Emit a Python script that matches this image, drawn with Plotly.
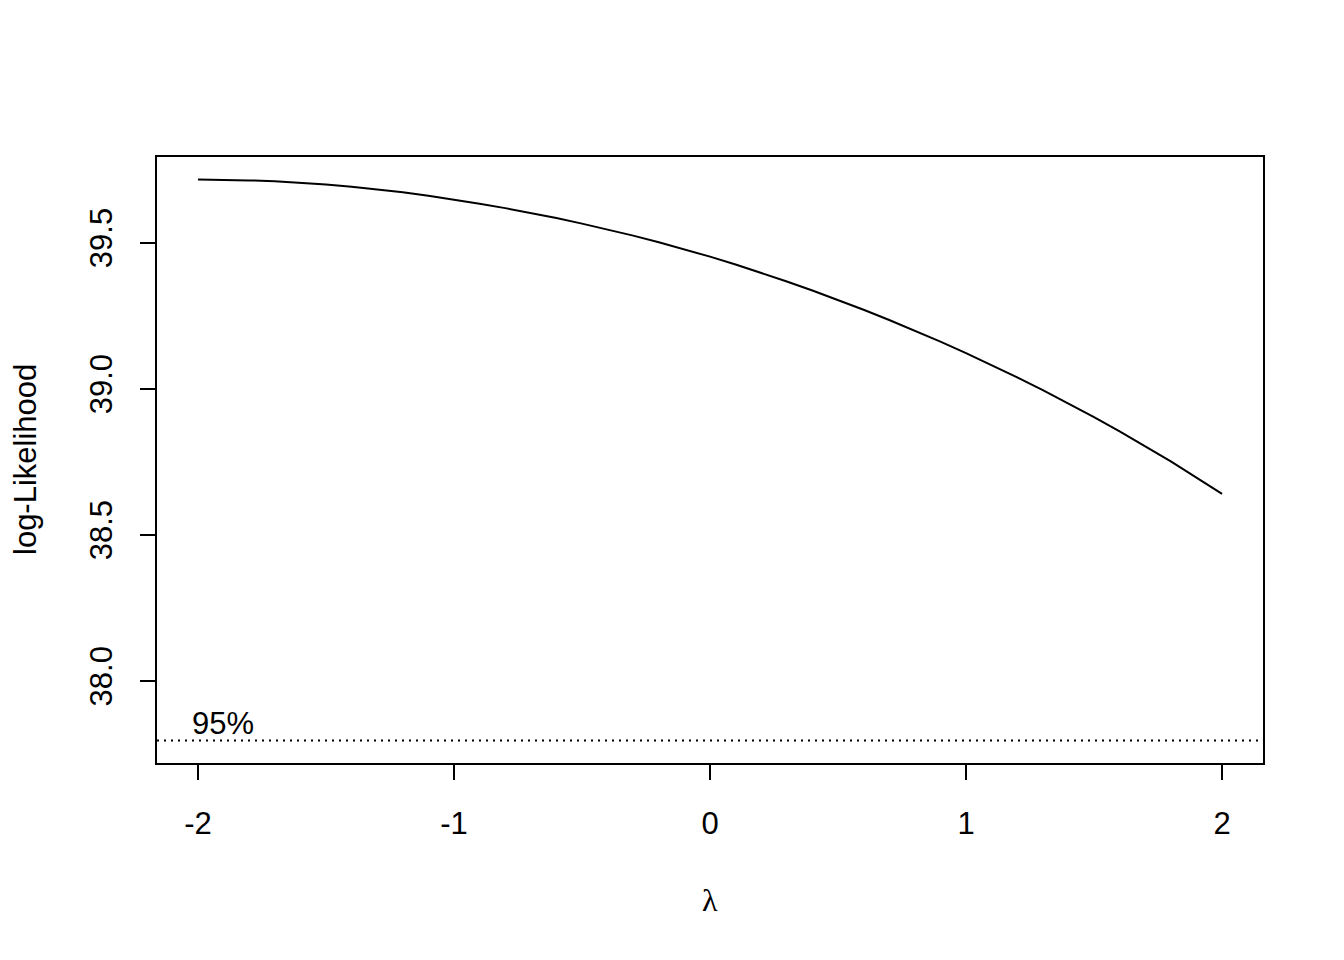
import plotly.graph_objects as go

# Box-Cox profile log-likelihood
lambdas = [-2.0, -1.9, -1.8, -1.7, -1.6, -1.5, -1.4, -1.3, -1.2, -1.1, -1.0,
           -0.9, -0.8, -0.7, -0.6, -0.5, -0.4, -0.3, -0.2, -0.1, 0.0,
           0.1, 0.2, 0.3, 0.4, 0.5, 0.6, 0.7, 0.8, 0.9, 1.0,
           1.1, 1.2, 1.3, 1.4, 1.5, 1.6, 1.7, 1.8, 1.9, 2.0]
loglik = [39.716, 39.715, 39.713, 39.710, 39.705, 39.699, 39.691, 39.682, 39.672, 39.660, 39.647,
          39.633, 39.618, 39.602, 39.584, 39.565, 39.545, 39.524, 39.501, 39.477, 39.452,
          39.425, 39.397, 39.367, 39.336, 39.304, 39.270, 39.235, 39.199, 39.161, 39.122,
          39.081, 39.039, 38.995, 38.950, 38.903, 38.854, 38.803, 38.751, 38.696, 38.640]
ci_level = 37.796
ci_label = "95%"
x_ticks = [-2, -1, 0, 1, 2]
y_ticks = [38.0, 38.5, 39.0, 39.5]
y_ticktext = ["38.0", "38.5", "39.0", "39.5"]

x_min, x_max = -2.16, 2.16
y_lo, y_hi = 37.719, 39.793

FONT = "Liberation Sans, Arial, sans-serif"

fig = go.Figure()
fig.add_trace(go.Scatter(x=lambdas, y=loglik, mode="lines",
                         line=dict(color="black", width=2), hoverinfo="skip"))
fig.add_trace(go.Scatter(x=[x_min, x_max], y=[ci_level, ci_level], mode="lines",
                         line=dict(color="black", width=2, dash="2px,5px"), hoverinfo="skip"))

fig.add_annotation(x=-2.03, y=ci_level, xref="x", yref="y", text=ci_label,
                   showarrow=False, xanchor="left", yanchor="bottom", yshift=-2,
                   font=dict(family=FONT, size=31, color="black"))
fig.add_annotation(x=0.5, y=-(900 - 763) / 606, xref="paper", yref="paper", text="λ",
                   showarrow=False, xanchor="center", yanchor="middle",
                   font=dict(family="Liberation Serif, serif", size=32, color="black"))
fig.add_annotation(x=(25 - 157) / 1106, y=0.5, xref="paper", yref="paper", text="log-Likelihood",
                   showarrow=False, textangle=-90, xanchor="center", yanchor="middle",
                   font=dict(family=FONT, size=31, color="black"))

fig.update_xaxes(range=[x_min, x_max], tickvals=x_ticks, ticktext=[str(t) for t in x_ticks],
                 ticks="outside", ticklen=15, tickwidth=2, tickcolor="black",
                 showline=True, linecolor="black", linewidth=2, mirror=True,
                 showgrid=False, zeroline=False, ticklabelstandoff=17,
                 tickfont=dict(family=FONT, size=31, color="black"))
fig.update_yaxes(range=[y_lo, y_hi], tickvals=y_ticks, ticktext=y_ticktext,
                 ticks="outside", ticklen=15, tickwidth=2, tickcolor="black",
                 showline=True, linecolor="black", linewidth=2, mirror=True,
                 showgrid=False, zeroline=False, tickangle=-90, ticklabelstandoff=16,
                 tickfont=dict(family=FONT, size=31, color="black"))

fig.update_layout(width=1344, height=960, showlegend=False,
                  margin=dict(l=157, r=81, t=157, b=197, pad=0),
                  plot_bgcolor="white", paper_bgcolor="white")

fig.write_html("out.html", config={"displayModeBar": False},
               post_script="document.body.style.margin='0px';")
